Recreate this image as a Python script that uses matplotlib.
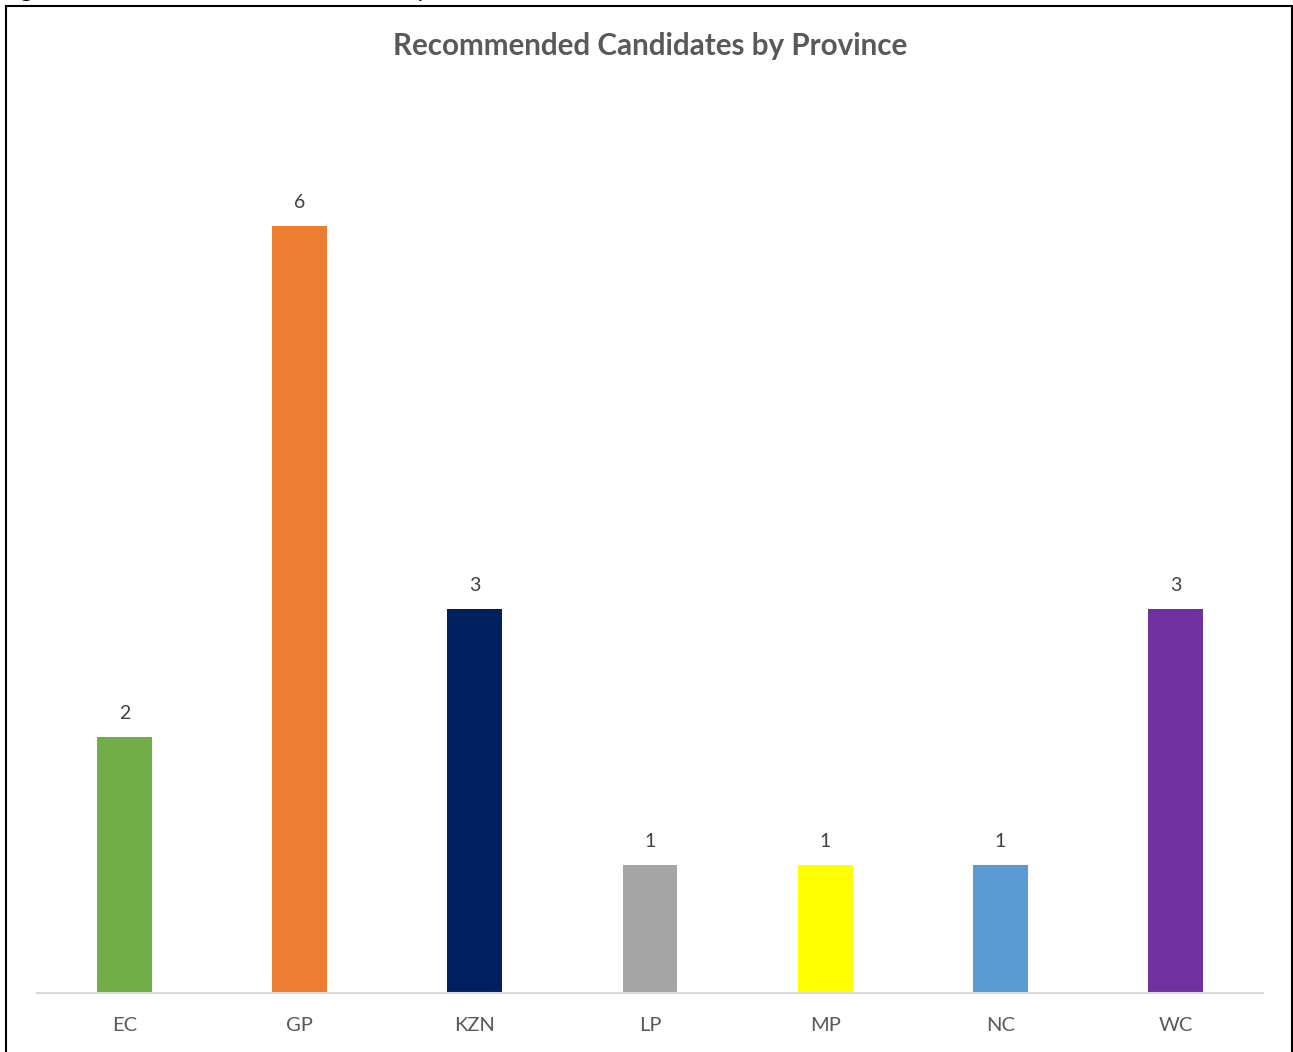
import matplotlib
matplotlib.use("Agg")
import matplotlib.pyplot as plt
from matplotlib.patches import Rectangle

categories = ["EC", "GP", "KZN", "LP", "MP", "NC", "WC"]
values = [2, 6, 3, 1, 1, 1, 3]
colors = ["#70AD47", "#ED7D31", "#002060", "#A5A5A5", "#FFFF00", "#5B9BD5", "#7030A0"]
title = "Recommended Candidates by Province"
caption = "Figure 1: Recommended Candidates by Province"

plt.rcParams['font.family'] = ['Lato', 'DejaVu Sans']

W, H = 1293, 1052
fig = plt.figure(figsize=(W / 100, H / 100), dpi=100)

# outer chart border
fig.patches.append(Rectangle((6 / W, -0.01), (1292 - 6) / W, (H - 6) / H + 0.01,
                             transform=fig.transFigure, fill=False,
                             edgecolor="black", linewidth=1.5))
# cut-off caption above the chart
fig.text(0 / W, 1 - (-3) / H, caption, fontsize=18, color="black",
         ha="left", va="baseline")

ax = fig.add_axes([37 / W, (H - 993) / H, 1226 / W, (993 - 98) / H])
x = range(len(categories))
bars = ax.bar(x, values, width=0.314, color=colors)
ax.set_xlim(-0.5, len(categories) - 0.5)
ax.set_ylim(0, 7)
for spine in ["top", "right", "left"]:
    ax.spines[spine].set_visible(False)
ax.spines["bottom"].set_color("#D9D9D9")
ax.spines["bottom"].set_linewidth(1.5)
ax.set_yticks([])
ax.set_xticks(list(x))
ax.set_xticklabels(categories, fontsize=14.5, color="#595959")
ax.tick_params(axis="x", length=0, pad=17.5)
for b, v in zip(bars, values):
    ax.annotate(str(v), (b.get_x() + b.get_width() / 2, v), xytext=(0, 11),
                textcoords="offset points", ha="center", va="bottom",
                fontsize=14, color="#404040")

fig.text(650 / W, 1 - 46 / H, title, fontsize=21.3, fontweight="bold",
         color="#595959", ha="center", va="center")

fig.savefig("out.png", dpi=100)
